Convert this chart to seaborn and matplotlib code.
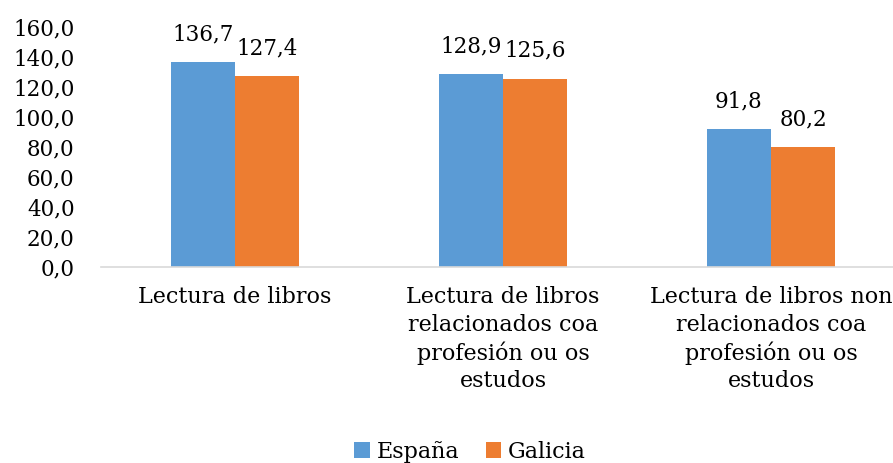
import matplotlib
matplotlib.use("Agg")
import matplotlib.pyplot as plt
import seaborn as sns
import pandas as pd

categories = ["Lectura de libros",
              "Lectura de libros\nrelacionados coa\nprofesión ou os\nestudos",
              "Lectura de libros non\nrelacionados coa\nprofesión ou os\nestudos"]
espana = [136.7, 128.9, 91.8]
galicia = [127.4, 125.6, 80.2]
series = ["España", "Galicia"]
colors = ["#5B9BD5", "#ED7D31"]
yticks = [0, 20, 40, 60, 80, 100, 120, 140, 160]

df = pd.DataFrame({
    "cat": categories * 2,
    "val": espana + galicia,
    "serie": [series[0]] * 3 + [series[1]] * 3,
})

sns.set_theme(style="white")
plt.rcParams["font.family"] = ["DejaVu Serif"]
plt.rcParams["text.color"] = "black"
plt.rcParams["xtick.color"] = "black"
plt.rcParams["ytick.color"] = "black"

fig = plt.figure(figsize=(8.93, 4.63), dpi=100)
ax = fig.add_axes([101 / 893, 1 - 267 / 463, 804 / 893, 240 / 463])
sns.barplot(data=df, x="cat", y="val", hue="serie", palette=colors,
            width=0.478, gap=0, ax=ax, saturation=1, legend=True, linewidth=0)
ax.set_xlim(-0.5, 2.5)
ax.set_ylim(0, 160)
ax.set_yticks(yticks)
ax.set_yticklabels([f"{v:.1f}".replace(".", ",") for v in yticks], fontsize=15.5)
ax.tick_params(axis="x", labelsize=16, length=0, pad=14)
ax.tick_params(axis="y", length=0, pad=19)
for lbl in ax.get_xticklabels():
    lbl.set_linespacing(1.3)
ax.set_xlabel("")
ax.set_ylabel("")
for s in ["top", "right", "left"]:
    ax.spines[s].set_visible(False)
ax.spines["bottom"].set_color("#d9d9d9")
ax.spines["bottom"].set_linewidth(1.2)

for cont in ax.containers:
    ax.bar_label(cont, labels=[f"{v:.1f}".replace(".", ",") for v in cont.datavalues],
                 fontsize=15.5, padding=12)

ax.legend(loc="center", bbox_to_anchor=(470 / 893, 1 - 452 / 463),
          bbox_transform=fig.transFigure, ncol=2, frameon=False, fontsize=16,
          handlelength=0.7, handleheight=0.7, handletextpad=0.3, columnspacing=1.2)

fig.savefig("out.png", dpi=100)
